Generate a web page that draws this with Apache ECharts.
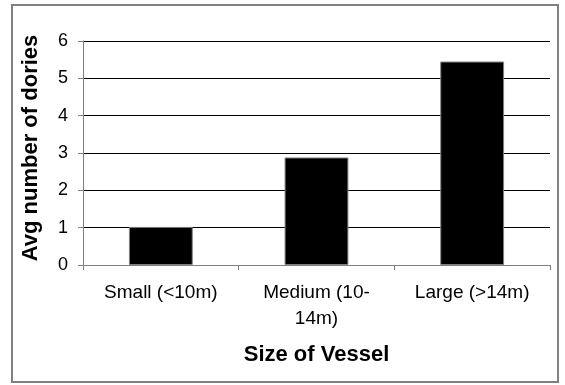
<!DOCTYPE html>
<html>
<head>
<meta charset="utf-8">
<script src="https://cdn.jsdelivr.net/npm/echarts@6/dist/echarts.min.js"></script>
<style>
html,body{margin:0;padding:0;background:#fff;}
#c{width:565px;height:385px;}
</style>
</head>
<body>
<div id="c"></div>
<script>
var categories = ['Small (<10m)', 'Medium (10-\n14m)', 'Large (>14m)'];
var values = [1.02, 2.88, 5.45];
var yTicks = [0, 1, 2, 3, 4, 5, 6];

var chart = echarts.init(document.getElementById('c'), null, {renderer: 'canvas'});
var font = 'Liberation Sans, Arial, sans-serif';
chart.setOption({
  animation: false,
  backgroundColor: '#fff',
  graphic: [{
    type: 'rect',
    shape: {x: 12, y: 5, width: 546, height: 377},
    style: {fill: 'none', stroke: '#808080', lineWidth: 2}
  }],
  grid: {left: 83, right: 15, top: 41, bottom: 120, containLabel: false},
  xAxis: {
    type: 'category',
    data: categories,
    name: 'Size of Vessel',
    nameLocation: 'middle',
    nameGap: 79,
    nameTextStyle: {fontFamily: font, fontSize: 22, fontWeight: 'bold', color: '#000'},
    axisLine: {lineStyle: {color: '#808080', width: 1}},
    axisTick: {show: true, length: 5, lineStyle: {color: '#808080'}},
    axisLabel: {fontFamily: font, fontSize: 19, color: '#000', margin: 15, lineHeight: 26, interval: 0}
  },
  yAxis: {
    type: 'value',
    min: 0, max: 6, interval: 1,
    name: 'Avg number of dories',
    nameLocation: 'middle',
    nameGap: 41,
    nameTextStyle: {fontFamily: font, fontSize: 22, fontWeight: 'bold', color: '#000', padding: [0, 0, 0, 10]},
    axisLine: {show: true, lineStyle: {color: '#808080', width: 1}},
    axisTick: {show: true, length: 5, lineStyle: {color: '#808080'}},
    axisLabel: {fontFamily: font, fontSize: 18, color: '#000', margin: 15,
      formatter: function (v) { return yTicks.indexOf(v) >= 0 ? String(v) : ''; }},
    splitLine: {show: true, lineStyle: {color: '#000', width: 1}}
  },
  series: [{
    type: 'bar',
    data: values,
    barWidth: '41%',
    itemStyle: {color: '#000', borderColor: '#808080', borderWidth: 1}
  }]
});
</script>
</body>
</html>
